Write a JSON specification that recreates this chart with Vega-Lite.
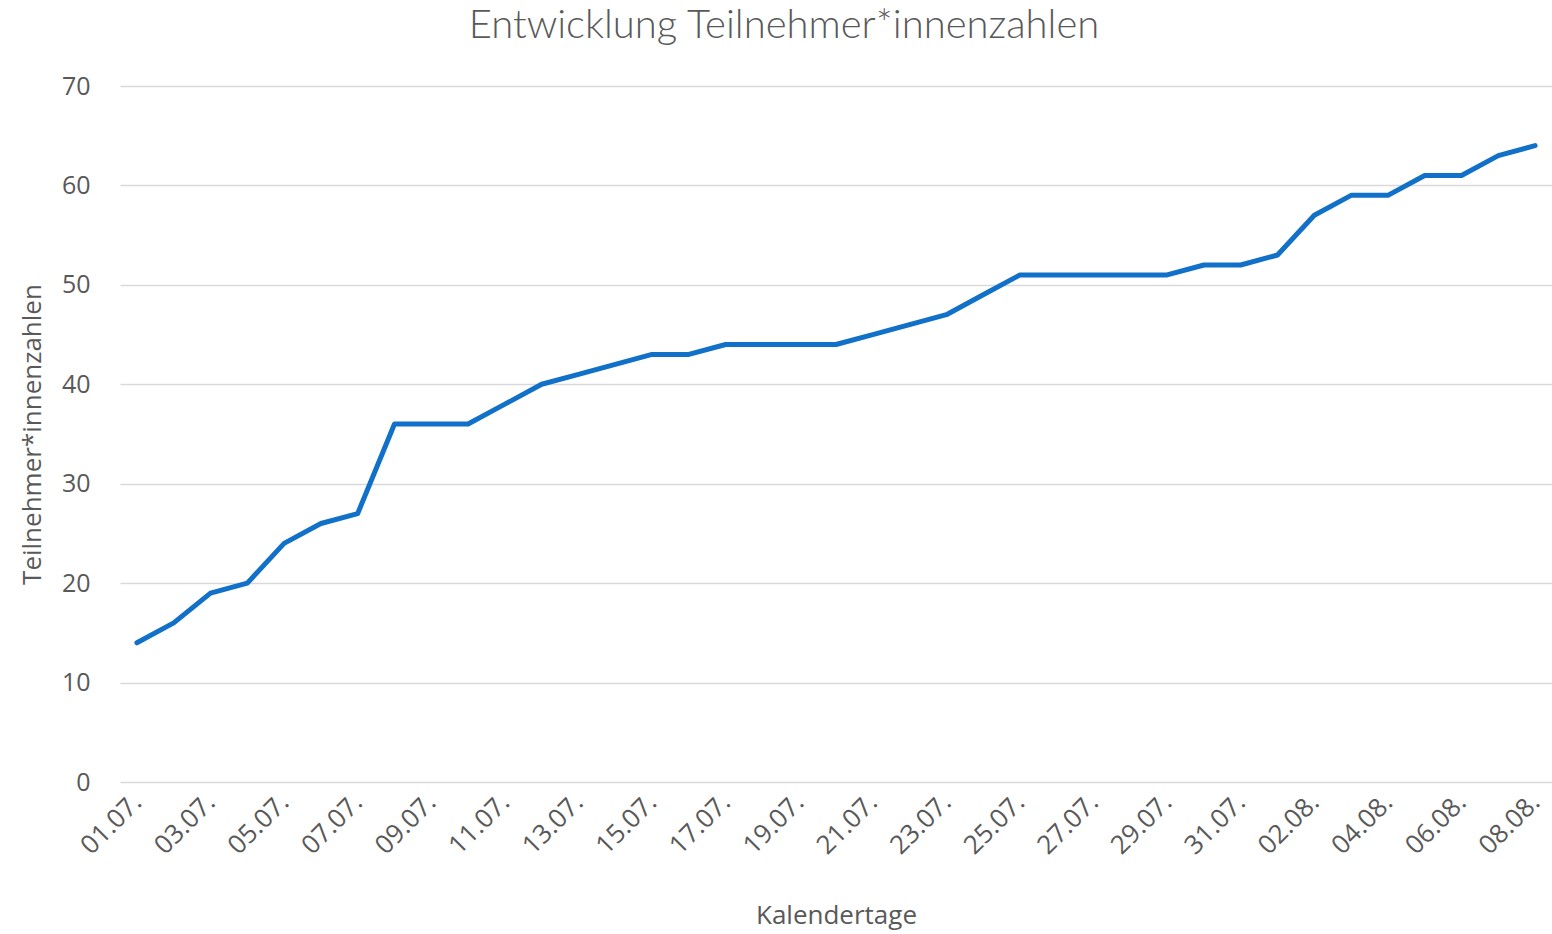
{
  "$schema": "https://vega.github.io/schema/vega-lite/v6.json",
  "autosize": "none",
  "width": 1432,
  "height": 696,
  "padding": {"left": 120, "top": 86, "right": 0, "bottom": 152},
  "background": "white",
  "title": {
    "text": "Entwicklung Teilnehmer*innenzahlen",
    "font": "Lato",
    "fontWeight": 300,
    "fontSize": 40,
    "color": "#595959",
    "anchor": "middle",
    "dx": -52,
    "offset": 28
  },
  "data": {
    "values": [
      {"Tag": "01.07.", "Anzahl": 14},
      {"Tag": "02.07.", "Anzahl": 16},
      {"Tag": "03.07.", "Anzahl": 19},
      {"Tag": "04.07.", "Anzahl": 20},
      {"Tag": "05.07.", "Anzahl": 24},
      {"Tag": "06.07.", "Anzahl": 26},
      {"Tag": "07.07.", "Anzahl": 27},
      {"Tag": "08.07.", "Anzahl": 36},
      {"Tag": "09.07.", "Anzahl": 36},
      {"Tag": "10.07.", "Anzahl": 36},
      {"Tag": "11.07.", "Anzahl": 38},
      {"Tag": "12.07.", "Anzahl": 40},
      {"Tag": "13.07.", "Anzahl": 41},
      {"Tag": "14.07.", "Anzahl": 42},
      {"Tag": "15.07.", "Anzahl": 43},
      {"Tag": "16.07.", "Anzahl": 43},
      {"Tag": "17.07.", "Anzahl": 44},
      {"Tag": "18.07.", "Anzahl": 44},
      {"Tag": "19.07.", "Anzahl": 44},
      {"Tag": "20.07.", "Anzahl": 44},
      {"Tag": "21.07.", "Anzahl": 45},
      {"Tag": "22.07.", "Anzahl": 46},
      {"Tag": "23.07.", "Anzahl": 47},
      {"Tag": "24.07.", "Anzahl": 49},
      {"Tag": "25.07.", "Anzahl": 51},
      {"Tag": "26.07.", "Anzahl": 51},
      {"Tag": "27.07.", "Anzahl": 51},
      {"Tag": "28.07.", "Anzahl": 51},
      {"Tag": "29.07.", "Anzahl": 51},
      {"Tag": "30.07.", "Anzahl": 52},
      {"Tag": "31.07.", "Anzahl": 52},
      {"Tag": "01.08.", "Anzahl": 53},
      {"Tag": "02.08.", "Anzahl": 57},
      {"Tag": "03.08.", "Anzahl": 59},
      {"Tag": "04.08.", "Anzahl": 59},
      {"Tag": "05.08.", "Anzahl": 61},
      {"Tag": "06.08.", "Anzahl": 61},
      {"Tag": "07.08.", "Anzahl": 63},
      {"Tag": "08.08.", "Anzahl": 64}
    ]
  },
  "mark": {"type": "line", "color": "#1170C8", "strokeWidth": 5, "strokeJoin": "round", "strokeCap": "round"},
  "encoding": {
    "x": {
      "field": "Tag",
      "type": "ordinal",
      "sort": null,
      "scale": {"type": "point", "padding": 0.46},
      "axis": {
        "title": "Kalendertage",
        "values": ["01.07.", "03.07.", "05.07.", "07.07.", "09.07.", "11.07.", "13.07.", "15.07.", "17.07.", "19.07.", "21.07.", "23.07.", "25.07.", "27.07.", "29.07.", "31.07.", "02.08.", "04.08.", "06.08.", "08.08."],
        "labelAngle": -45,
        "labelAlign": "right",
        "labelBaseline": "middle",
        "labelPadding": 16,
        "labelFont": "Open Sans",
        "labelFontSize": 26,
        "labelColor": "#595959",
        "titleFont": "Open Sans",
        "titleFontSize": 26,
        "titleFontWeight": "normal",
        "titleColor": "#595959",
        "titlePadding": 44,
        "domain": false,
        "ticks": false,
        "grid": false
      }
    },
    "y": {
      "field": "Anzahl",
      "type": "quantitative",
      "scale": {"domain": [0, 70]},
      "axis": {
        "title": "Teilnehmer*innenzahlen",
        "values": [0, 10, 20, 30, 40, 50, 60, 70],
        "labelFont": "Open Sans",
        "labelFontSize": 25,
        "labelColor": "#595959",
        "labelPadding": 30,
        "titleFont": "Open Sans",
        "titleFontSize": 26,
        "titleFontWeight": "normal",
        "titleColor": "#595959",
        "titlePadding": 16,
        "domain": false,
        "ticks": false,
        "grid": true,
        "gridColor": "#D9D9D9",
        "gridWidth": 1.5
      }
    }
  },
  "config": {"view": {"stroke": null}}
}
